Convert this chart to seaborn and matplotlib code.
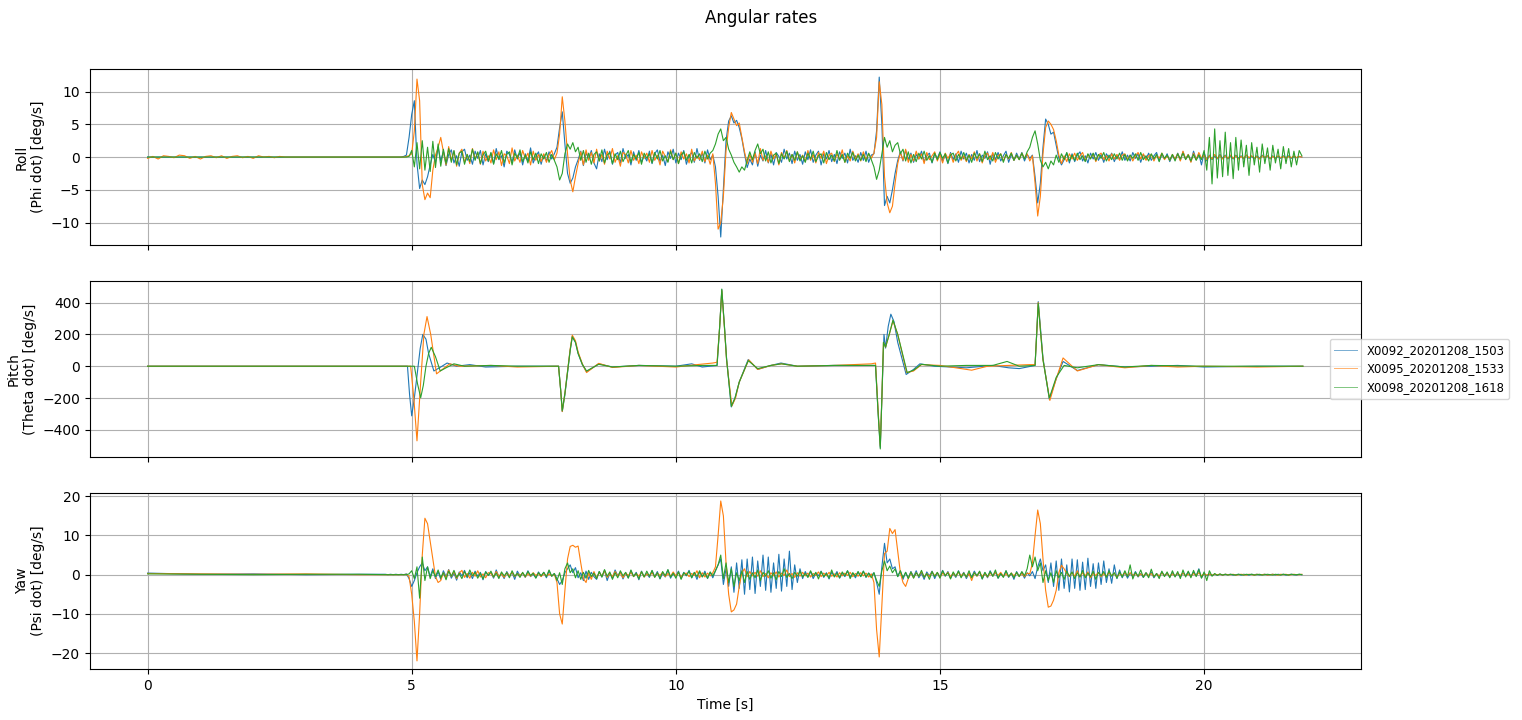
import numpy as np
import matplotlib
matplotlib.use("Agg")
import matplotlib.pyplot as plt
from matplotlib.lines import Line2D
import seaborn as sns

runs = ["X0092_20201208_1503", "X0095_20201208_1533", "X0098_20201208_1618"]
colors = ["#1f77b4", "#ff7f0e", "#2ca02c"]

# roll / yaw rates read on a 0.05 s grid starting at 4.5 s (one row = 1 s)
grid_start = 4.5
grid_step = 0.05

# ---- roll [deg/s] ----
roll_pre_t = [0.0, 4.45]
roll_blue_pre = [0.0, 0.0]
roll_green_pre = [0.0, 0.0]
roll_orange_pre_t = [0.0, 0.1, 0.2, 0.3, 0.4, 0.5, 0.6, 0.7, 0.8, 0.9, 1.0, 1.1, 1.2, 1.3,
                     1.4, 1.5, 1.6, 1.7, 1.8, 1.9, 2.0, 2.1, 2.2, 2.3, 2.4, 2.5, 2.6, 4.45]
roll_orange_pre = [-0.2, 0.1, -0.3, 0.2, 0.1, -0.1, 0.3, 0.2, -0.2, 0.1, -0.3, 0.1, 0.2, -0.1,
                   0.2, -0.2, 0.1, 0.2, -0.1, 0.1, -0.2, 0.2, 0.0, 0.1, -0.1, 0.1, 0.0, 0.0]

roll_blue = [
    0.0, 0.0, 0.0, 0.0, 0.0, 0.0, 0.0, 0.1, 0.3, 3.0, 6.5, 8.6, -1.0, -4.8, -3.5, -4.2, -3.0, -1.2, 0.4, -0.8,
    1.5, -0.6, 0.9, -1.3, 0.4, 1.1, -0.9, 0.2, -1.4, 0.8, 1.2, -0.5, 0.3, -1.1, 0.9, -0.2, 1.0, -1.2, 0.5, -0.7,
    0.6, -1.0, 1.3, -0.4, 0.2, -1.5, 0.9, 0.4, -0.8, 1.1, -0.3, 0.7, -1.2, 0.5, -0.6, 1.4, -0.9, 0.1, 0.8, -1.1,
    0.4, -0.6, 0.8, -0.3, 0.5, 1.5, 4.5, 6.9, 2.0, -2.5, -4.0, -3.2, -1.5, -0.4, 0.9, -1.3, 0.6, -0.2, 1.0, -0.9,
    -1.8, 0.5, -0.7, 1.2, -0.4, 0.9, -1.1, 0.3, 0.7, -0.9, 1.3, -0.2, 0.4, -1.2, 0.8, -0.5, 1.0, -0.8, 0.2, -0.6,
    0.9, -1.0, 0.5, 1.1, -0.7, 0.3, -1.3, 0.8, -0.2, 1.2, -0.9, 0.6, -0.4, 1.0, -1.1, 0.2, 0.7, -0.8, 1.3, -0.5,
    0.6, -0.9, 1.1, -0.4, 0.3, -1.5, -6.0, -12.2, -5.0, 2.5, 5.5, 6.3, 5.2, 5.6, 4.5, 2.8, 0.5, -1.6, -0.3, -1.2,
    0.8, -1.4, 0.3, -0.6, 1.0, -0.9, 0.5, -1.2, 0.7, 0.1, -0.8, 1.2, -0.3, 0.6, -1.0, 0.9, -0.5, 0.4, -1.1, 0.8,
    -0.4, 1.1, -0.8, 0.3, 0.9, -1.2, 0.5, -0.3, 1.0, -0.7, 0.4, -1.0, 0.8, -0.2, 0.6, -0.9, 1.2, -0.5, 0.2, -0.8,
    0.7, -0.5, 0.9, -0.8, 0.3, 0.5, 4.0, 12.2, 5.0, -7.4, -6.0, -7.0, -5.0, -2.5, -0.5, 0.8, -0.6, 1.0, -0.4, 0.6,
    -0.8, 0.4, -0.3, 0.9, -0.7, 0.2, 0.6, -0.9, 0.5, -0.2, 0.8, -0.6, 0.3, -1.0, 0.7, -0.4, 0.5, -0.8, 0.9, -0.3,
    0.6, -0.9, 0.4, -0.5, 1.0, -0.7, 0.3, -0.2, 0.8, -1.1, 0.5, -0.4, 0.7, -0.6, 0.2, 0.9, -0.8, 0.4, -0.5, 0.6,
    -0.3, 0.7, -0.6, 0.4, -0.2, 0.3, -3.0, -7.0, -4.0, 1.5, 5.8, 5.0, 3.5, 3.8, 1.8, -0.2, -1.2, -0.4, 0.6, -0.9,
    0.5, -0.7, 0.3, 0.8, -0.6, 0.2, -0.9, 0.6, -0.3, 0.7, -0.5, 0.4, -0.8, 0.5, -0.2, 0.6, -0.7, 0.3, -0.4, 0.8,
    -0.5, 0.3, -0.6, 0.7, -0.2, 0.5, -0.8, 0.4, -0.3, 0.6, -0.5, 0.2, 0.7, -0.6, 0.4, -0.3, 0.5, -0.7, 0.3, -0.4,
    0.6, -0.5, 0.8, -0.3, 0.4, -0.7, 0.9, -0.4, 0.5, -1.2, 0.7, -0.6, 0.3, -0.4, 0.2, -0.3, 0.4, -0.2, 0.3, -0.3,
    0.2, -0.3, 0.3, -0.2, 0.2, -0.3, 0.3, -0.2, 0.1, -0.3, 0.2, -0.2, 0.3, -0.1, 0.2, -0.3, 0.2, -0.2, 0.1, -0.2,
    0.2, -0.1, 0.2, -0.2, 0.1, -0.1, 0.1, 0.0,
]
roll_orange = [
    0.0, 0.0, 0.0, 0.0, 0.0, 0.0, 0.0, 0.0, 0.1, 0.2, 0.5, 4.0, 11.9, 8.6, -4.2, -6.5, -5.5, -6.2, -2.0, 0.3,
    1.5, 3.0, 0.8, -1.2, 1.6, -0.5, 0.9, -1.4, 0.6, 1.2, -0.8, 0.4, -1.0, 1.3, -0.3, 0.7, -1.1, 0.9, -0.6, 0.2,
    -0.9, 1.1, -0.4, 0.8, -1.3, 0.5, 0.2, -1.0, 1.4, -0.6, 0.3, -0.8, 1.0, -0.2, 0.6, -1.2, 0.9, -0.5, 0.4, -0.7,
    0.5, -0.8, 0.3, 1.0, -0.4, 0.6, 3.5, 9.2, 5.5, 0.5, -3.5, -5.3, -3.0, -1.0, 0.8, -1.2, 1.1, -0.5, 0.7, -0.9,
    1.2, -0.6, 0.4, -1.1, 0.9, -0.3, 1.3, -0.8, 0.2, -1.4, 0.7, 0.4, -0.9, 1.0, -0.5, 0.3, -1.0, 0.8, -0.2, 0.6,
    -0.8, 1.0, -0.5, 0.3, -1.2, 0.9, 0.1, -0.7, 1.1, -0.4, 0.6, -1.0, 0.8, -0.3, 0.5, -0.9, 1.2, -0.6, 0.2, -0.4,
    0.9, -0.7, 0.3, -1.1, 0.5, -4.0, -11.0, -10.0, -6.0, 1.0, 4.5, 6.8, 5.8, 4.8, 5.2, 3.0, 0.8, -1.0, 0.4, -0.8,
    0.6, -1.0, 1.3, -0.5, 0.2, -0.8, 0.9, -0.3, 0.5, -1.2, 0.7, -0.2, 1.0, -0.6, 0.4, -0.9, 0.8, -0.4, 0.3, -0.7,
    1.0, -0.5, 0.4, -0.9, 0.7, -0.2, 0.9, -1.0, 0.3, 0.6, -0.7, 0.5, -0.4, 1.1, -0.8, 0.2, -0.6, 0.9, -0.3, 0.5,
    -0.6, 0.8, -0.4, 0.5, -0.2, 0.6, 3.0, 11.5, 8.0, -3.0, -7.0, -8.5, -7.5, -4.0, -1.0, 0.7, -0.5, 1.2, -0.8, 0.4,
    -0.6, 0.9, -0.3, 0.5, -1.0, 0.7, -0.4, 0.2, 0.8, -0.6, 0.4, -0.9, 0.6, -0.2, 0.5, -0.8, 0.3, 0.9, -0.5, 0.2,
    -0.7, 0.4, -0.3, 0.8, -0.6, 0.5, -0.9, 0.3, 0.6, -0.4, 0.7, -0.8, 0.2, 0.5, -0.6, 0.4, -0.3, 0.7, -0.5, 0.3,
    -0.4, 0.6, -0.2, 0.5, -0.6, 0.2, -4.0, -9.0, -6.0, 0.5, 4.5, 5.5, 5.0, 4.2, 2.5, 0.3, -1.0, 0.2, -0.7, 0.5,
    -0.3, 0.6, -0.5, 0.2, 0.7, -0.6, 0.4, -0.2, 0.5, -0.7, 0.3, 0.6, -0.4, 0.2, -0.6, 0.5, -0.3, 0.4, -0.5, 0.3,
    0.5, -0.4, 0.3, -0.6, 0.2, 0.7, -0.3, 0.5, -0.5, 0.2, 0.4, -0.6, 0.3, -0.2, 0.6, -0.4, 0.2, -0.5, 0.4, -0.3,
    0.5, -0.6, 0.9, -0.3, 0.4, -0.8, 0.6, -0.4, 0.7, -0.2, 0.3, -0.4, 0.2, -0.3, 0.4, -0.2, 0.3, -0.3, 0.2, -0.2,
    0.3, -0.2, 0.2, -0.3, 0.1, -0.2, 0.3, -0.1, 0.2, -0.2, 0.1, -0.3, 0.2, -0.1, 0.2, -0.2, 0.1, -0.2, 0.2, -0.1,
    0.1, -0.2, 0.1, -0.1, 0.2, -0.1, 0.1, 0.0,
]
roll_green = [
    0.0, 0.0, 0.0, 0.0, 0.0, 0.0, 0.0, 0.0, 0.0, 0.1, 1.0, -1.5, 2.2, -1.8, 2.5, -2.0, 1.5, -2.2, 2.4, -1.6,
    2.0, -1.4, 1.2, -1.0, 1.3, -0.8, 1.0, -1.2, 0.6, 0.9, -1.1, 0.4, -0.7, 1.2, -0.5, 0.8, -1.0, 0.3, 0.9, -0.6,
    0.7, -1.1, 0.5, -0.3, 1.0, -0.9, 0.4, 0.8, -1.2, 0.6, -0.2, 1.1, -0.7, 0.3, -0.9, 0.8, -0.4, 0.6, -1.0, 0.5,
    -0.3, 0.7, -0.8, 0.4, -0.5, -1.5, -3.5, -2.5, 0.5, 2.0, 1.2, 2.2, 0.8, 1.5, -0.5, 1.0, -0.8, 0.6, -1.1, 0.4,
    0.8, -0.6, 1.1, -0.9, 0.3, 0.7, -1.0, 0.5, -0.4, 0.9, -0.7, 0.2, 1.0, -0.8, 0.4, -0.3, 0.7, -1.1, 0.6, -0.2,
    0.5, -0.9, 0.7, -0.3, 1.0, -0.6, 0.2, -0.8, 0.9, -0.4, 0.6, -1.0, 0.3, 0.8, -0.5, 0.4, -0.9, 0.7, -0.2, 0.5,
    -0.7, 0.9, -0.3, 0.6, 1.0, 2.0, 3.5, 4.3, 2.5, 3.0, 1.2, 0.3, -0.8, -1.5, -2.3, -1.5, -2.0, -0.5, 0.8, -0.4,
    1.0, 2.0, 0.5, 1.2, -0.6, 0.8, -0.9, 0.3, 0.6, -1.0, 0.5, -0.3, 0.9, -0.7, 0.4, -0.5, 0.8, -0.6, 0.2, -0.8,
    0.6, -0.3, 0.9, -0.7, 0.2, 0.5, -0.9, 0.7, -0.4, 0.3, -0.6, 1.0, -0.5, 0.4, -0.8, 0.6, -0.2, 0.7, -0.6, 0.3,
    -0.5, 0.4, -0.7, 0.6, -0.4, -1.5, -3.4, -2.0, 0.5, 3.0, 1.5, 2.5, 0.8, 1.8, 2.2, 0.5, 1.2, -0.6, 0.8, -0.9,
    0.4, -0.7, 0.6, -0.3, 0.9, -0.5, 0.2, -0.8, 0.6, -0.4, 0.7, -0.2, 0.5, -0.9, 0.3, 0.6, -0.6, 0.4, -0.3, 0.7,
    -0.5, 0.3, -0.8, 0.6, -0.2, 0.5, -0.7, 0.9, -0.4, 0.2, -0.6, 0.7, -0.3, 0.5, -0.8, 0.4, -0.2, 0.6, -0.5, 0.3,
    -0.4, 0.6, -0.3, 0.8, 1.5, 3.0, 4.0, 2.0, -0.5, -1.5, -0.8, -1.8, -0.6, -1.2, 0.3, -0.8, 0.5, -0.4, 0.7, -0.6,
    0.3, -0.5, 0.6, -0.4, 0.2, -0.7, 0.5, -0.3, 0.6, -0.5, 0.4, -0.2, 0.7, -0.6, 0.3, -0.4, 0.5, -0.3, 0.6, -0.5,
    0.4, -0.6, 0.3, -0.2, 0.5, -0.5, 0.7, -0.4, 0.2, -0.6, 0.5, -0.3, 0.4, -0.7, 0.6, -0.2, 0.3, -0.5, 0.4, -0.6,
    0.5, -0.3, 0.6, -0.4, 0.3, -0.6, 0.4, -0.5, 0.3, -0.4, 1.0, -2.0, 3.0, -4.1, 4.3, -3.2, 2.5, -3.0, 3.8, -2.8,
    2.2, -3.3, 3.0, -2.0, 2.6, -1.5, 1.8, -2.8, 2.2, -1.2, 1.5, -2.3, 2.0, -1.0, 1.4, -2.0, 1.8, -0.9, 1.2, -1.8,
    1.6, -1.0, 1.3, -1.5, 0.9, -1.2, 1.0, 0.2,
]

# ---- pitch [deg/s], smooth -> turning points ----
pitch_blue_t = [0.0, 4.92, 4.96, 5.0, 5.05, 5.1, 5.16, 5.21, 5.27, 5.32, 5.42, 5.55, 5.67, 5.85, 6.1, 6.4,
                7.0, 7.78, 7.82, 7.85, 7.9, 7.95, 8.0, 8.04, 8.1, 8.15, 8.23, 8.31, 8.54, 8.8, 9.3, 10.0,
                10.3, 10.5, 10.78, 10.83, 10.87, 10.92, 10.96, 11.05, 11.12, 11.2, 11.37, 11.55, 11.8,
                11.99, 12.3, 13.0, 13.78, 13.83, 13.87, 13.91, 13.94, 13.97, 14.02, 14.07, 14.13, 14.2,
                14.36, 14.5, 14.62, 14.9, 15.5, 16.0, 16.3, 16.5, 16.8, 16.83, 16.86, 16.9, 16.95, 17.07,
                17.2, 17.33, 17.6, 18.0, 18.5, 19.0, 19.5, 20.0, 21.0, 21.87]
pitch_blue = [0, 0, -180, -312, -200, -60, 110, 200, 170, 80, -30, -5, 20, 0, 10, -5,
              0, 0, -150, -285, -180, -40, 100, 187, 150, 80, 10, -35, 15, -5, 5, 0,
              15, -5, 5, 250, 481, 250, 50, -256, -200, -100, 42, -20, 5,
              20, 0, 5, 5, -300, -510, -100, 200, 114, 250, 327, 280, 150,
              -52, -20, 15, 0, -10, 5, -10, -15, 5, 200, 406, 250, 50, -208,
              -80, 30, -27, 10, -5, 0, 5, -5, 0, 0]
pitch_orange_t = [0.0, 4.98, 5.04, 5.1, 5.17, 5.23, 5.29, 5.36, 5.47, 5.58, 5.72, 5.9, 6.5, 7.0,
                  7.78, 7.82, 7.85, 7.9, 7.95, 8.0, 8.04, 8.1, 8.15, 8.23, 8.31, 8.54, 8.8, 9.3, 10.0,
                  10.4, 10.7, 10.78, 10.83, 10.87, 10.92, 10.96, 11.06, 11.13, 11.2, 11.38, 11.55, 11.8,
                  12.0, 12.3, 13.0, 13.7, 13.78, 13.83, 13.87, 13.9, 13.93, 13.97, 14.04, 14.11, 14.2,
                  14.37, 14.5, 14.65, 15.0, 15.3, 15.6, 15.9, 16.3, 16.7, 16.8, 16.83, 16.86, 16.9, 16.95,
                  17.08, 17.2, 17.33, 17.6, 18.0, 18.5, 19.0, 19.5, 20.0, 21.0, 21.87]
pitch_orange = [0, 0, -200, -469, -100, 200, 312, 200, -48, -20, 15, 0, 5, -5,
                0, -150, -285, -170, -30, 110, 195, 160, 90, 15, -40, 18, -8, 5, -5,
                10, 20, 25, 250, 475, 240, 40, -250, -200, -100, 40, -20, 5,
                15, 0, 5, 15, 20, -280, -500, -200, 150, 120, 200, 285, 200,
                -40, -30, 10, 5, -10, -25, 0, 5, 10, 10, 200, 400, 230, 40,
                -215, -80, 52, -30, 10, -10, 5, -5, 0, -5, 0]
pitch_green_t = [0.0, 5.05, 5.11, 5.17, 5.22, 5.27, 5.32, 5.37, 5.45, 5.54, 5.65, 5.8, 6.0, 6.5, 7.0,
                 7.78, 7.82, 7.85, 7.9, 7.95, 8.0, 8.04, 8.1, 8.15, 8.23, 8.31, 8.54, 8.8, 9.3, 10.0, 10.5,
                 10.78, 10.83, 10.87, 10.92, 10.96, 11.05, 11.12, 11.2, 11.37, 11.55, 11.8, 12.0, 12.3,
                 13.0, 13.78, 13.83, 13.87, 13.9, 13.93, 13.97, 14.04, 14.11, 14.2, 14.38, 14.5, 14.65,
                 15.0, 15.5, 16.0, 16.27, 16.5, 16.8, 16.83, 16.86, 16.9, 16.95, 17.07, 17.2, 17.35, 17.6,
                 18.0, 18.5, 19.0, 20.0, 21.0, 21.87]
pitch_green = [0, 0, -110, -198, -120, 0, 80, 119, 60, -30, -10, 15, 0, 5, 0,
               0, -150, -280, -170, -35, 100, 185, 150, 80, 12, -30, 12, -5, 5, 0, 5,
               5, 250, 485, 250, 45, -252, -200, -100, 35, -15, 5, 15, 0,
               5, 5, -300, -520, -200, 150, 120, 200, 290, 200, -40, -25, 12,
               0, 5, 5, 30, 0, 5, 200, 395, 230, 40, -200, -70, 5, -10,
               10, -5, 5, 0, 0, 0]

# ---- yaw [deg/s] ----
yaw_pre_t = [0.0, 1.0, 2.0, 3.0, 4.0, 4.45]
yaw_blue_pre = [0.4, 0.1, 0.2, 0.0, 0.1, 0.1]
yaw_orange_pre = [0.3, 0.2, 0.1, 0.2, 0.0, 0.0]
yaw_green_pre = [0.2, 0.1, 0.0, 0.1, 0.1, 0.0]

yaw_blue = [
    0.1, 0.0, 0.1, 0.0, 0.1, 0.0, 0.1, 0.0, 0.2, -1.0, -3.0, -1.5, 0.5, 2.0, 3.0, 1.0, 2.0, -0.5, 1.5, -1.0,
    0.8, -1.2, 1.0, -0.5, 1.3, -0.9, 0.4, -1.4, 0.7, -0.3, 1.1, -0.8, 0.5, -1.0, 0.9, -0.4, 0.6, -1.3, 0.8, -0.2,
    0.5, -0.9, 1.2, -0.6, 0.3, -1.0, 0.8, -0.4, 0.6, -1.2, 0.9, -0.3, 0.4, -0.7, 1.0, -0.5, 0.2, -0.8, 0.7, -0.4,
    0.6, -0.8, 1.0, -0.4, 0.3, -1.0, -2.5, -1.5, 0.5, 1.5, 2.5, 0.5, 1.8, -0.8, 0.5, -1.5, 0.9, -1.2, 0.6, -0.5,
    -1.2, 0.8, -0.6, 1.1, -1.5, 0.4, -0.9, 1.2, -0.3, 0.7, -1.1, 0.5, -0.8, 1.0, -0.4, 0.6, -1.3, 0.9, -0.5, 0.3,
    -0.7, 1.0, -0.5, 0.8, -1.1, 0.4, -0.6, 1.2, -0.9, 0.3, -0.4, 0.9, -1.0, 0.6, -0.3, 1.1, -0.8, 0.5, -1.2, 0.7,
    -0.5, 0.9, -1.0, 0.6, -0.8, 1.0, 2.5, 4.0, -2.5, 1.5, -3.0, 2.0, -4.5, 3.0, -3.5, 3.8, -5.0, 4.0, -3.8, 4.5,
    -4.8, 3.5, -3.0, 5.0, -4.0, 4.5, -4.5, 3.0, -3.5, 5.2, -4.2, 4.0, -3.0, 6.0, -3.8, 2.5, -2.0, 1.5, -1.0, 0.8,
    -0.6, 0.8, -1.0, 0.4, -0.3, 0.9, -0.7, 0.5, -1.1, 0.6, -0.4, 0.8, -0.9, 0.3, -0.5, 1.0, -0.6, 0.4, -0.8, 0.7,
    -0.5, 0.9, -0.7, 0.4, -0.3, 0.5, -2.0, -5.0, 2.0, 8.0, 3.0, 4.0, 1.5, 2.0, -0.5, 1.0, -1.2, 0.6, -0.9, 0.8,
    -0.5, 1.0, -0.8, 0.4, -1.2, 0.7, -0.3, 0.9, -1.0, 0.5, -0.6, 1.1, -0.4, 0.8, -0.9, 0.3, -0.7, 1.0, -0.5, 0.6,
    -1.0, 0.4, -0.6, 0.9, -0.3, 0.7, -1.1, 0.5, -0.8, 1.0, -0.4, 0.6, -0.9, 0.3, -0.5, 1.0, -0.7, 0.4, -1.2, 0.8,
    -0.4, 0.6, -0.9, 0.5, -0.3, 0.8, -1.0, 2.0, 4.0, 1.0, 2.5, -2.0, 3.0, -3.0, 3.5, -4.0, 4.0, -3.5, 2.5, -4.4,
    4.0, -3.5, 3.8, -4.0, 3.2, -3.8, 4.2, -3.0, 2.8, -3.5, 3.0, -2.5, 3.5, -2.0, 1.5, -2.2, 2.5, -1.0, 1.2, -0.8,
    0.6, -0.9, 0.4, -0.5, 0.8, -0.6, 0.3, -0.7, 0.5, -0.4, 0.6, -0.8, 0.3, -0.5, 0.7, -0.3, 0.4, -0.6, 0.5, -0.4,
    0.3, -0.6, 0.5, -0.3, 0.7, -0.4, 0.6, -0.3, 1.5, -0.8, 0.4, -0.3, 0.2, -0.2, 0.1, -0.1, 0.1, -0.1, 0.1, 0.0,
    0.1, -0.1, 0.0, 0.1, -0.1, 0.1, 0.0, -0.1, 0.1, 0.0, 0.1, -0.1, 0.0, 0.1, -0.1, 0.0, 0.1, -0.1, 0.1, 0.0,
    0.1, -0.1, 0.0, 0.1, 0.0, -0.1, 0.1, 0.0,
]
yaw_orange = [
    0.0, 0.0, 0.0, 0.0, 0.0, 0.0, 0.0, 0.0, 0.1, -0.5, -5.0, -12.0, -22.0, -10.0, 5.0, 14.4, 13.0, 8.5, 4.0, -0.5,
    -2.0, -1.5, 0.5, -0.8, 1.2, -0.5, 0.8, -1.0, 0.4, 1.1, -0.7, 0.3, -0.9, 0.6, -0.4, 1.0, -0.6, 0.2, -0.8, 0.5,
    0.3, -0.6, 0.8, -0.4, 0.2, -0.7, 0.5, -0.3, 0.6, -0.5, 0.3, -0.2, 0.4, -0.6, 0.3, -0.4, 0.5, -0.2, 0.3, -0.5,
    0.3, -0.4, 0.2, -0.3, 0.1, -2.0, -10.0, -12.6, -4.0, 4.0, 7.2, 7.5, 7.0, 7.3, 3.0, -1.0, -2.0, 0.5, -1.2, 0.8,
    -0.9, 0.6, -0.4, 1.0, -0.7, 0.3, -0.5, 0.8, -0.3, 0.5, -0.8, 0.4, -0.2, 0.6, -0.5, 0.3, -0.4, 0.7, -0.6, 0.2,
    -0.3, 0.5, -0.6, 0.4, -0.2, 0.6, -0.5, 0.3, -0.4, 0.7, -0.3, 0.5, -0.6, 0.2, 0.4, -0.5, 0.3, -0.2, 1.0, -0.8,
    0.5, -0.6, 0.4, -0.3, 0.5, 2.0, 10.0, 18.8, 15.0, 3.0, -5.0, -9.5, -9.0, -7.5, -3.0, 0.5, 1.5, -0.5, 0.8, -0.3,
    0.6, -0.4, 1.0, -0.5, 0.3, -0.8, 0.5, -0.3, 0.7, -0.6, 0.4, -0.2, 1.2, -0.5, 0.3, -0.7, 0.5, -0.4, 0.6, -0.3,
    0.4, -0.6, 0.3, -0.2, 0.7, -0.5, 0.4, -0.3, 0.6, -0.4, 0.2, -0.6, 0.5, -0.3, 0.4, -0.2, 0.6, -0.5, 0.3, -0.4,
    0.5, -0.3, 0.4, -0.6, 0.2, -2.0, -14.0, -21.0, -8.0, 5.4, 6.0, 11.8, 10.5, 11.5, 6.0, 0.5, -2.0, -3.0, -1.0, 0.6,
    -0.8, 0.5, -0.4, 0.8, -0.6, 0.3, -0.5, 0.7, -0.3, 0.5, -0.7, 0.4, -0.2, 0.6, -0.5, 0.3, -0.4, 0.6, -0.3, 0.4,
    -0.6, 0.3, -1.5, 0.5, -0.4, 0.7, -0.5, 0.3, -0.6, 0.4, -0.3, 0.5, -0.2, 0.6, -0.4, 0.3, -0.5, 0.4, -0.3, 0.5,
    -0.4, 0.3, -0.5, 0.4, 0.2, 3.0, 10.0, 16.5, 13.0, 4.0, -4.0, -8.3, -8.0, -6.5, -4.0, 0.5, 2.4, 1.5, 0.3, -0.5,
    0.6, -0.4, 1.0, -0.6, 0.5, -0.3, 0.7, -0.8, 0.4, -0.2, 0.6, -0.5, 0.3, -0.4, 0.5, -0.3, 0.4, -0.6, 0.3, -0.2,
    0.4, -0.3, 0.5, -0.2, 0.3, -0.4, 0.2, -0.3, 0.4, -0.2, 0.3, -0.5, 0.2, -0.3, 0.4, -0.2, 0.3, -0.4, 0.2, -0.3,
    0.3, -0.2, 0.4, -0.3, 0.2, -0.4, 0.3, -0.2, 0.5, -0.3, 0.2, -0.1, 0.1, -0.1, 0.1, 0.0, 0.1, -0.1, 0.1, 0.0,
    0.0, 0.1, -0.1, 0.0, 0.1, 0.0, -0.1, 0.1, 0.0, -0.1, 0.1, 0.0, 0.0, 0.1, -0.1, 0.0, 0.1, 0.0, -0.1, 0.1,
    0.0, 0.1, -0.1, 0.0, 0.1, 0.0, 0.0, 0.1,
]
yaw_green = [
    0.0, 0.0, 0.0, 0.0, 0.0, 0.0, 0.0, 0.0, 0.0, 0.2, 1.0, -1.0, 2.0, -6.0, 4.5, -1.5, 2.0, -1.0, 1.0, -0.5,
    1.2, -0.8, 0.5, -1.3, 0.9, -0.4, 1.1, -0.7, 0.3, -1.0, 0.8, -0.5, 1.2, -0.3, 0.6, -0.9, 0.4, -1.1, 0.7, -0.2,
    0.9, -0.6, 0.4, -1.0, 0.7, -0.3, 0.5, -0.8, 1.0, -0.4, 0.3, -0.7, 0.6, -0.5, 0.8, -0.2, 0.4, -0.9, 0.5, -0.3,
    0.6, -0.5, 1.2, -0.4, 0.3, -1.5, 0.5, -2.5, 1.5, 3.0, 0.5, 1.5, -0.8, 1.0, -1.2, 0.6, -0.9, 1.1, -0.5, 0.4,
    -1.0, 0.8, -0.6, 1.3, -0.4, 0.7, -1.2, 0.5, -0.8, 1.0, -0.3, 0.6, -0.9, 1.2, -0.5, 0.4, -1.1, 0.8, -0.6, 0.9,
    -0.4, 1.1, -0.7, 0.5, -1.0, 0.8, -0.3, 1.3, -0.6, 0.4, -0.9, 0.7, -1.2, 0.5, -0.2, 0.9, -0.8, 0.6, -0.5, 1.0,
    -0.6, 0.4, -0.9, 0.7, -0.3, 1.0, 2.5, 5.0, -1.0, 3.0, -2.0, 1.5, -3.0, 0.5, -1.5, 1.0, -2.0, 0.8, -1.2, 0.5,
    -0.8, 1.2, -1.5, 0.6, -0.4, 1.0, -0.9, 0.5, -1.3, 0.8, -0.5, 1.5, -0.7, 0.3, -1.0, 0.6, -0.4, 0.9, -0.6, 0.3,
    -0.7, 1.0, -0.4, 0.6, -1.1, 0.8, -0.5, 0.3, -0.9, 1.2, -0.6, 0.4, -0.8, 0.7, -0.3, 1.0, -1.0, 0.5, -0.4, 0.8,
    -0.5, 0.9, -0.6, 0.4, -0.8, 0.5, -1.5, -3.0, 1.0, 3.5, 1.0, 2.2, 0.5, 1.5, -0.5, 1.0, -0.8, 0.6, -1.0, 0.7,
    -0.9, 0.5, -0.4, 1.1, -0.7, 0.3, -1.2, 0.8, -0.5, 0.6, -0.9, 1.0, -0.3, 0.5, -1.1, 0.7, -0.4, 0.9, -0.8, 0.4,
    -0.6, 1.0, -0.8, 0.5, -0.3, 0.9, -1.1, 0.6, -0.5, 0.8, -0.4, 1.2, -0.9, 0.3, -0.7, 1.0, -0.5, 0.4, -0.8, 0.6,
    -0.5, 0.8, -0.3, 1.5, 5.0, 2.0, 4.5, 1.0, 3.0, -2.0, 1.0, -1.5, 0.5, -2.0, 1.0, -0.8, 0.6, -1.2, 0.9, -0.4,
    0.7, -1.0, 0.5, -0.6, 1.1, -0.8, 0.4, -0.5, 0.9, -1.2, 0.6, -0.3, 0.8, -0.7, 1.0, -0.4, 0.5, -0.9, 0.7, -0.6,
    1.0, -0.5, 2.5, -1.1, 0.6, -0.4, 1.2, -0.7, 0.5, -0.8, 1.4, -0.6, 0.3, -1.0, 0.9, -0.5, 0.7, -0.8, 1.0, -0.6,
    0.8, -1.0, 1.2, -0.6, 0.9, -0.8, 1.1, -0.5, 1.3, -0.9, 0.7, -1.5, 1.0, -0.4, 0.3, -0.2, 0.2, -0.1, 0.1, -0.1,
    0.1, 0.0, -0.1, 0.1, 0.0, -0.1, 0.1, 0.0, 0.1, -0.1, 0.0, 0.1, -0.1, 0.0, 0.1, 0.0, -0.1, 0.1, 0.0, -0.1,
    0.1, 0.0, -0.1, 0.1, 0.0, 0.0, 0.1, 0.0,
]


def on_grid(pre_t, pre_v, vals):
    t = np.concatenate([pre_t, grid_start + grid_step * np.arange(len(vals))])
    return t, np.concatenate([pre_v, vals])


panels = [
    ("Roll\n(Phi dot) [deg/s]", [
        on_grid(roll_pre_t, roll_blue_pre, roll_blue),
        on_grid(roll_orange_pre_t, roll_orange_pre, roll_orange),
        on_grid(roll_pre_t, roll_green_pre, roll_green)]),
    ("Pitch\n(Theta dot) [deg/s]", [
        (np.array(pitch_blue_t), np.array(pitch_blue)),
        (np.array(pitch_orange_t), np.array(pitch_orange)),
        (np.array(pitch_green_t), np.array(pitch_green))]),
    ("Yaw\n(Psi dot) [deg/s]", [
        on_grid(yaw_pre_t, yaw_blue_pre, yaw_blue),
        on_grid(yaw_pre_t, yaw_orange_pre, yaw_orange),
        on_grid(yaw_pre_t, yaw_green_pre, yaw_green)]),
]

fig, axes = plt.subplots(3, 1, figsize=(15.22, 7.2), dpi=100, sharex=True)
fig.subplots_adjust(left=0.059, right=0.894, top=0.904, bottom=0.071, hspace=0.205)

for ax, (ylabel, series) in zip(axes, panels):
    for (t, v), c in zip(series, colors):
        sns.lineplot(x=t, y=v, ax=ax, color=c, linewidth=0.8, estimator=None,
                     sort=False, legend=False)
    ax.set_ylabel(ylabel)
    ax.grid(True)

axes[-1].set_xlabel("Time [s]")
fig.suptitle("Angular rates", y=0.987)

handles = [Line2D([], [], color=c, linewidth=0.7, alpha=0.6) for c in colors]
fig.legend(handles, runs, loc="center left", bbox_to_anchor=(0.8698, 0.4875),
           fontsize="small")

fig.savefig("out.png", dpi=100)
